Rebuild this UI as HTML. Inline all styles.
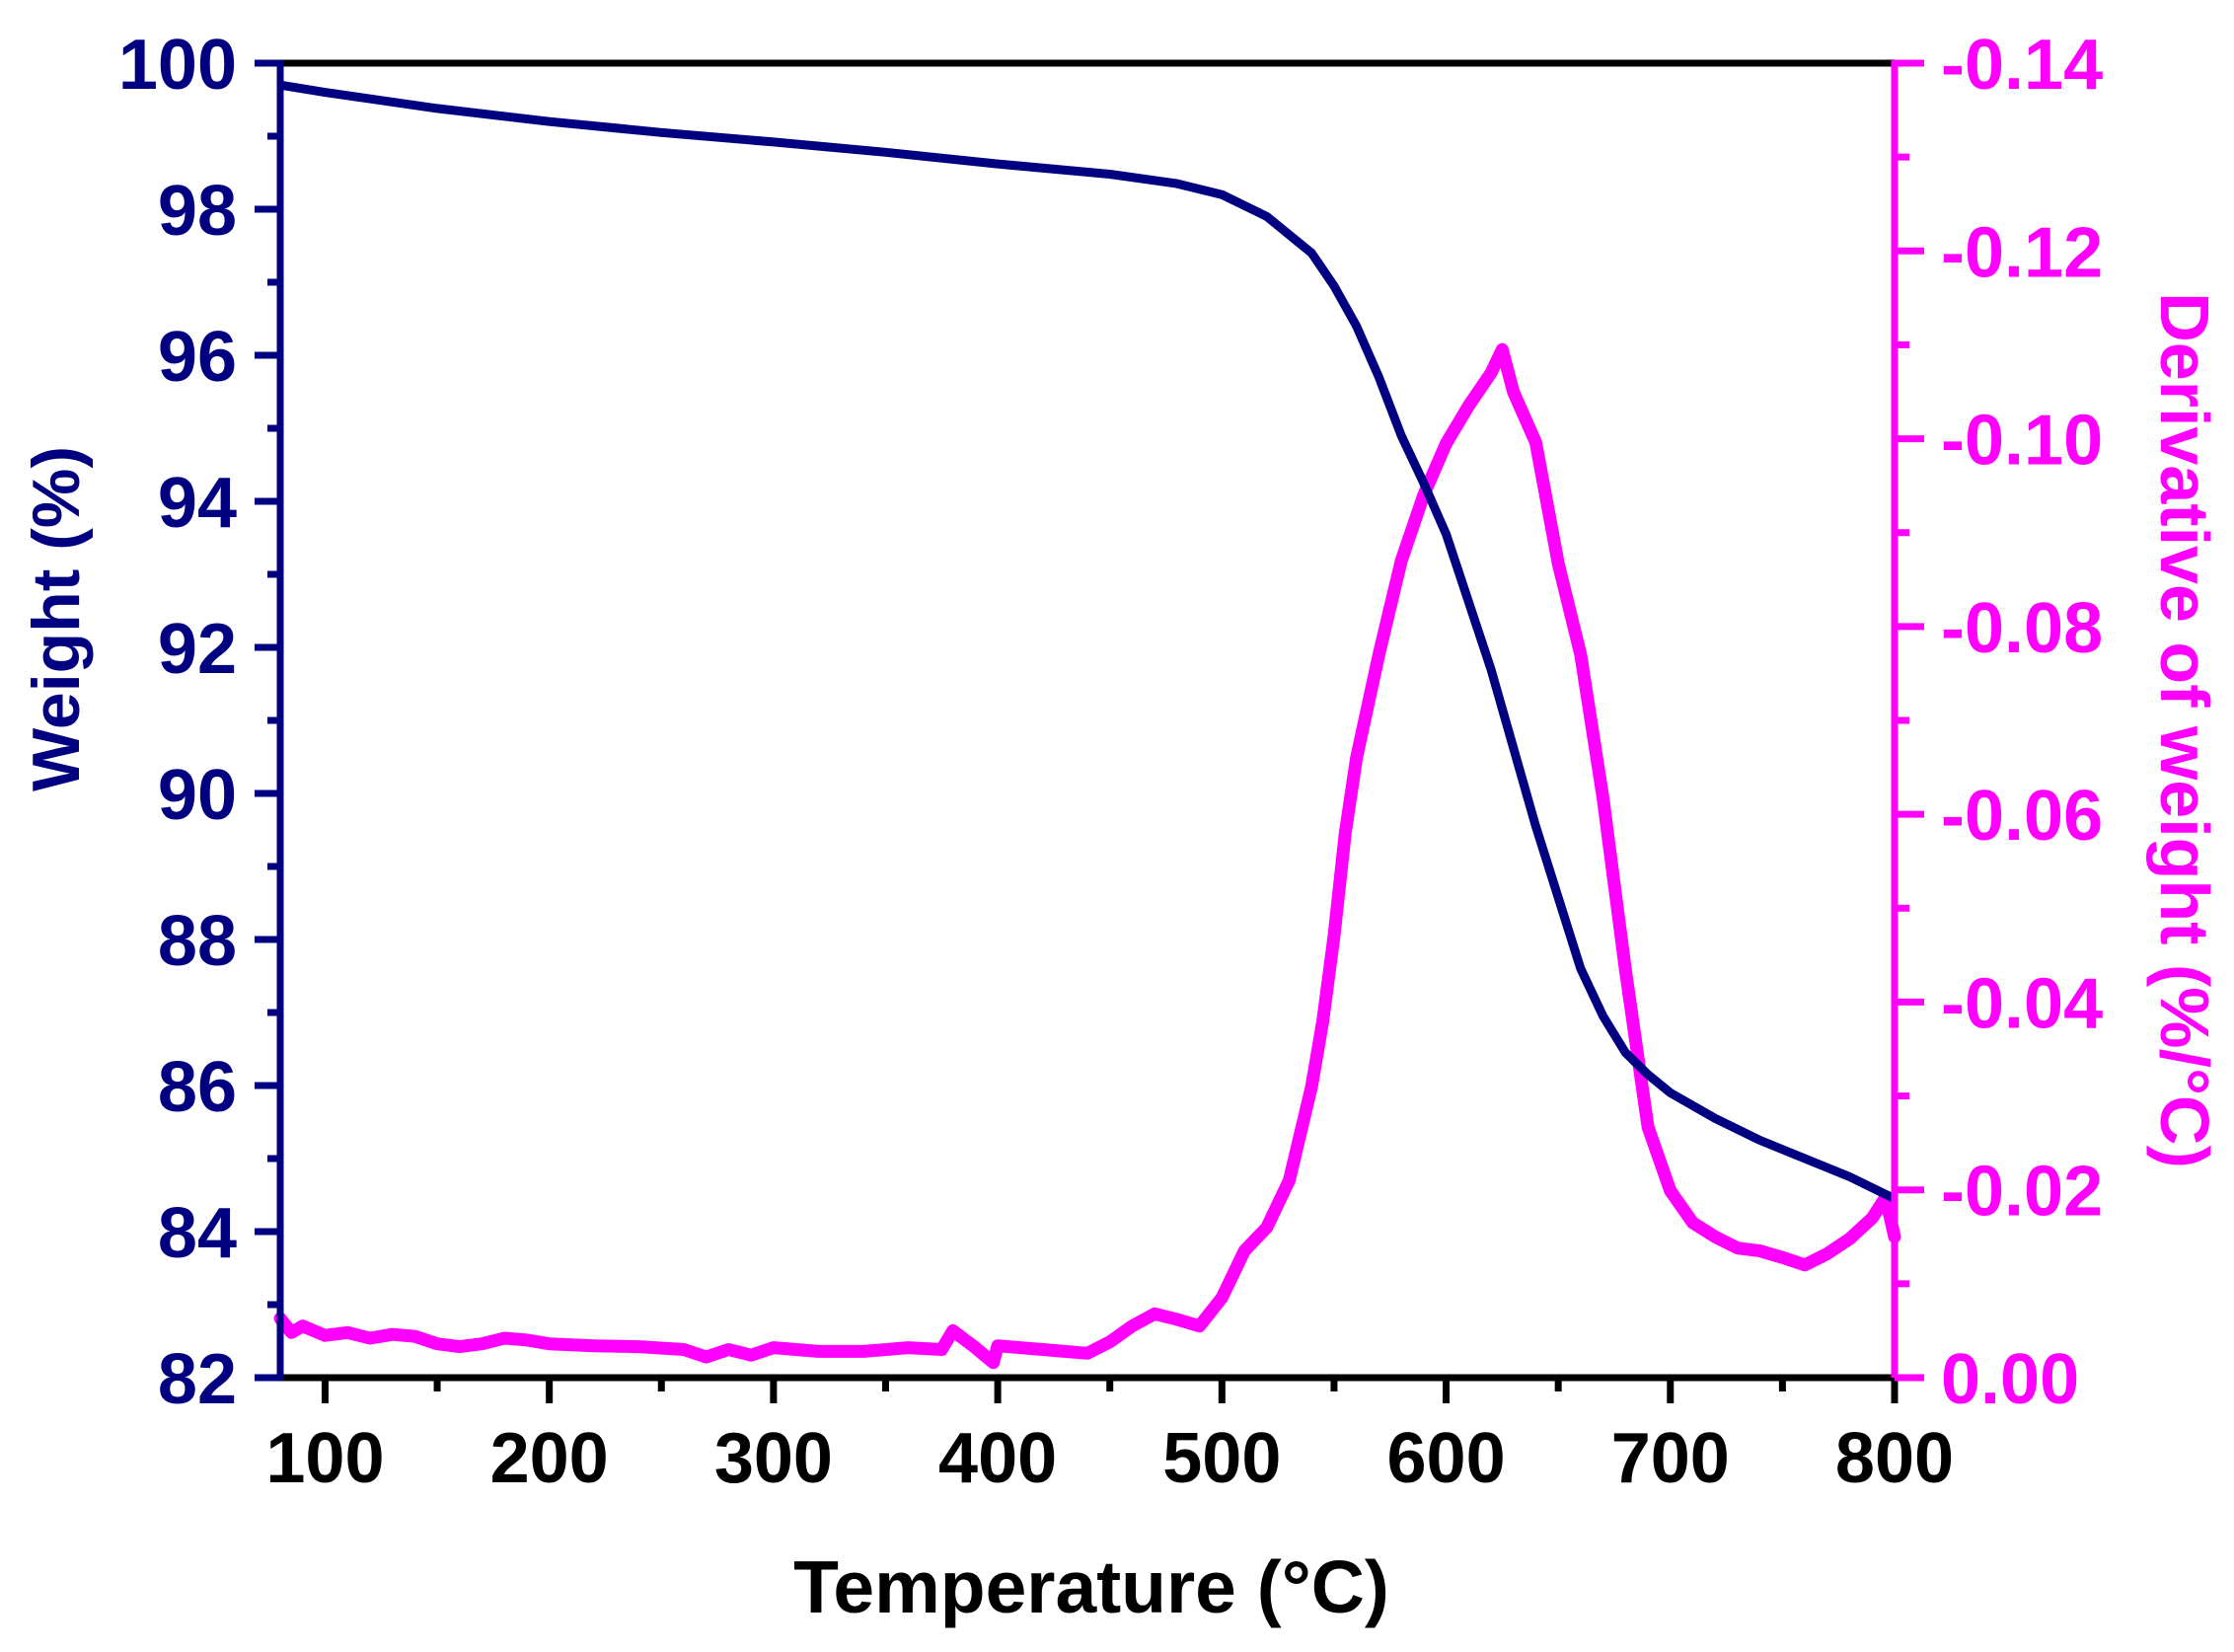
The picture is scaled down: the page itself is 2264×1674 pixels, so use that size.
<!DOCTYPE html>
<html><head><meta charset="utf-8"><style>
html,body{margin:0;padding:0;background:#fff;}
svg{display:block;font-family:"Liberation Sans",Arial,sans-serif;font-weight:bold;}
</style></head><body>
<svg id="chart" width="2264" height="1674" viewBox="0 0 2264 1674" xmlns="http://www.w3.org/2000/svg">
<g id="marks"></g><g id="axes"></g>
</svg>
<script>
const xTicks=[100,200,300,400,500,600,700,800];
const yLeftTicks=[82,84,86,88,90,92,94,96,98,100];
const yRightTicks=[0,0.02,0.04,0.06,0.08,0.10,0.12,0.14];
const yRightLabels=["0.00","-0.02","-0.04","-0.06","-0.08","-0.10","-0.12","-0.14"];
const weightT=[80,100,150,200,250,300,350,400,450,480,500,520,540,550,560,570,580,590,600,620,640,660,670,680,690,700,720,740,760,780,800];
const weightV=[99.7,99.6,99.38,99.2,99.05,98.92,98.78,98.62,98.48,98.35,98.2,97.9,97.4,96.95,96.4,95.7,94.9,94.25,93.55,91.7,89.55,87.6,86.95,86.45,86.15,85.9,85.55,85.25,85.0,84.75,84.45];
const derivT=[80,85,90,100,110,120,130,140,150,160,170,180,190,200,220,240,260,270,280,290,300,320,340,360,375,380,390,398,400,420,440,450,460,470,480,490,500,510,520,530,540,545,550,555,560,570,580,590,600,610,620,625,630,640,650,660,670,680,690,700,710,720,730,740,750,760,770,780,790,796,800];
const derivV=[0.0063,0.0048,0.0055,0.0045,0.0048,0.0042,0.0046,0.0044,0.0036,0.0033,0.0036,0.0042,0.0040,0.0036,0.0034,0.0033,0.0030,0.0022,0.0030,0.0024,0.0032,0.0028,0.0028,0.0032,0.0030,0.0050,0.0032,0.0016,0.0034,0.0030,0.0026,0.0038,0.0055,0.0068,0.0062,0.0055,0.0085,0.0135,0.016,0.021,0.031,0.038,0.047,0.058,0.066,0.077,0.087,0.094,0.0995,0.1035,0.107,0.1095,0.105,0.0996,0.0867,0.077,0.0617,0.0434,0.0267,0.0199,0.0165,0.0150,0.0138,0.0135,0.0128,0.0120,0.0132,0.0148,0.0170,0.0192,0.0150];
const PL=284,PR=1920,PT=64,PB=1396;
const X=v=>PL+(v-80)/(800-80)*(PR-PL);
const YL=v=>PB-(v-82)/(100-82)*(PB-PT);
const YR=v=>PB-v/0.14*(PB-PT);
const NS="http://www.w3.org/2000/svg";
const marksG=document.getElementById('marks'),axesG=document.getElementById('axes');
function mk(tag,attrs,parent){const e=document.createElementNS(NS,tag);for(const k in attrs)e.setAttribute(k,attrs[k]);parent.appendChild(e);return e;}
const dStr=derivT.map((t,i)=>(i?'L':'M')+X(t).toFixed(1)+','+YR(derivV[i]).toFixed(1)).join('');
const dp=mk('path',{d:dStr,fill:'none',stroke:'#ff00ff','stroke-width':13,'stroke-linejoin':'round','stroke-linecap':'round'},marksG);


const wStr=weightT.map((t,i)=>(i?'L':'M')+X(t).toFixed(1)+','+YL(weightV[i]).toFixed(1)).join('');
const wp=mk('path',{d:wStr,fill:'none',stroke:'#000080','stroke-width':9,'stroke-linejoin':'round'},marksG);


const topAxis=mk('line',{x1:PL,y1:PT,x2:PR,y2:PT,stroke:'#000','stroke-width':7},axesG);


const botAxis=mk('line',{x1:PL,y1:PB,x2:PR,y2:PB,stroke:'#000','stroke-width':7},axesG);


const leftAxis=mk('line',{x1:PL,y1:PT-3,x2:PL,y2:PB+3,stroke:'#000080','stroke-width':7},axesG);


const rightAxis=mk('line',{x1:PR,y1:PT-3,x2:PR,y2:PB+3,stroke:'#ff00ff','stroke-width':7},axesG);


for(let v=100;v<=800;v+=50){const major=v%100===0;mk('line',{x1:X(v),y1:PB,x2:X(v),y2:PB+(major?26:14),stroke:'#000','stroke-width':7},axesG);}
xTicks.forEach(v=>{const t=mk('text',{x:X(v),y:1502,'text-anchor':'middle','font-size':72,fill:'#000'},axesG);t.textContent=v;

});
for(let v=82;v<=100;v+=1){const major=v%2===0;mk('line',{x1:PL-(major?26:13),y1:YL(v),x2:PL,y2:YL(v),stroke:'#000080','stroke-width':7},axesG);}
yLeftTicks.forEach(v=>{const t=mk('text',{x:240,y:YL(v)+26,'text-anchor':'end','font-size':72,fill:'#000080'},axesG);t.textContent=v;

});
for(let i=0;i<=14;i++){const v=i*0.01;const major=i%2===0;mk('line',{x1:PR,y1:YR(v),x2:PR+(major?30:15),y2:YR(v),stroke:'#ff00ff','stroke-width':7},axesG);}
yRightTicks.forEach((v,i)=>{const t=mk('text',{x:1967,y:YR(v)+26,'text-anchor':'start','font-size':72,fill:'#ff00ff'},axesG);t.textContent=yRightLabels[i];

});
const xt=mk('text',{x:1106,y:1634,'text-anchor':'middle','font-size':75,fill:'#000'},axesG);xt.textContent='Temperature (°C)';


const yt=mk('text',{x:0,y:0,transform:'translate(80,627) rotate(-90)','text-anchor':'middle','font-size':68,fill:'#000080'},axesG);yt.textContent='Weight (%)';


const rt=mk('text',{x:0,y:0,transform:'translate(2190,740) rotate(90)','text-anchor':'middle','font-size':70,fill:'#ff00ff'},axesG);rt.textContent='Derivative of weight (%/°C)';


</script>
</body></html>
